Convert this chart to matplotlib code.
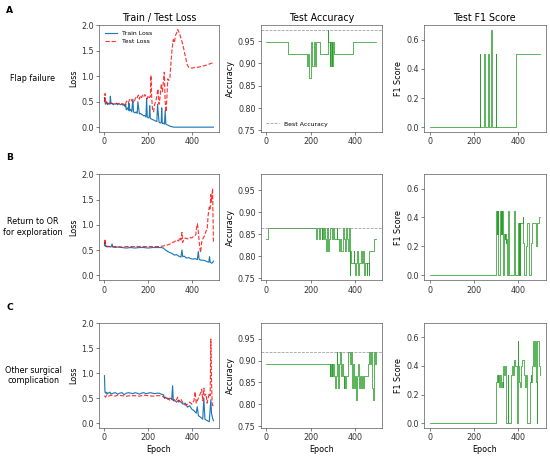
import matplotlib.pyplot as plt

# ---- data ----
row_names = ["Flap failure", "Return to OR\nfor exploration", "Other surgical\ncomplication"]
panel_tags = ["A", "B", "C"]

# loss curves (epoch, value)
train_A_ep = [0, 2, 5, 10, 15, 20, 25, 27, 30, 35, 40, 45, 50, 55, 60, 65, 70, 75, 80, 85, 90, 95, 97, 100, 105, 110,
              112, 115, 120, 125, 130, 133, 140, 145, 150, 153, 160, 165, 170, 175, 180, 185, 190, 193, 196, 200,
              205, 207, 210, 215, 220, 225, 230, 235, 240, 243, 250, 255, 260, 262, 265, 270, 275, 278, 281, 285,
              290, 295, 300, 305, 310, 315, 320, 350, 400, 450, 499]
train_A = [0.58, 0.50, 0.45, 0.48, 0.44, 0.47, 0.45, 0.61, 0.46, 0.47, 0.44, 0.46, 0.45, 0.47, 0.44, 0.46, 0.45, 0.44,
           0.46, 0.43, 0.44, 0.40, 0.45, 0.34, 0.38, 0.33, 0.47, 0.32, 0.35, 0.30, 0.55, 0.30, 0.28, 0.30, 0.27, 0.50,
           0.26, 0.27, 0.25, 0.24, 0.22, 0.23, 0.20, 0.57, 0.20, 0.18, 0.20, 0.42, 0.17, 0.16, 0.15, 0.14, 0.13, 0.12,
           0.11, 0.45, 0.10, 0.08, 0.09, 0.38, 0.07, 0.08, 0.06, 0.32, 0.06, 0.05, 0.04, 0.03, 0.02, 0.01, 0.01, 0.0,
           0.0, 0.0, 0.0, 0.0, 0.0]
test_A_ep = [0, 3, 5, 10, 15, 20, 30, 40, 50, 60, 70, 80, 90, 95, 100, 105, 110, 115, 120, 125, 130, 135, 140, 145,
             150, 155, 160, 165, 170, 175, 180, 185, 190, 195, 200, 205, 210, 213, 216, 220, 225, 230, 235, 240, 245,
             250, 255, 260, 265, 270, 274, 278, 282, 286, 290, 295, 300, 305, 310, 315, 320, 325, 330, 335, 340, 345,
             350, 355, 360, 365, 370, 375, 380, 385, 390, 400, 410, 420, 440, 460, 480, 499]
test_A = [0.50, 0.66, 0.47, 0.50, 0.46, 0.48, 0.47, 0.46, 0.47, 0.46, 0.47, 0.46, 0.45, 0.42, 0.50, 0.52, 0.48, 0.55,
          0.56, 0.52, 0.50, 0.48, 0.55, 0.60, 0.58, 0.63, 0.55, 0.62, 0.58, 0.63, 0.60, 0.64, 0.60, 0.55, 0.62, 0.58,
          0.60, 1.02, 0.60, 0.35, 0.30, 0.45, 0.50, 0.62, 0.75, 0.45, 0.60, 0.85, 0.70, 0.90, 1.08, 0.50, 0.30, 0.60,
          0.95, 0.92, 0.98, 1.30, 1.55, 1.72, 1.66, 1.80, 1.85, 1.92, 1.88, 1.82, 1.75, 1.68, 1.60, 1.50, 1.40, 1.30,
          1.22, 1.18, 1.17, 1.16, 1.17, 1.17, 1.19, 1.21, 1.24, 1.27]

train_B_ep = [0, 2, 4, 8, 12, 20, 30, 35, 38, 50, 60, 80, 100, 120, 140, 160, 180, 200, 220, 240, 260, 270, 280, 290,
              300, 310, 320, 330, 340, 350, 355, 358, 365, 375, 385, 395, 405, 415, 425, 430, 433, 440, 450, 460,
              470, 478, 481, 484, 490, 495, 499]
train_B = [0.60, 0.66, 0.57, 0.58, 0.56, 0.57, 0.56, 0.62, 0.56, 0.55, 0.56, 0.55, 0.54, 0.55, 0.54, 0.55, 0.55, 0.54,
           0.55, 0.55, 0.55, 0.54, 0.50, 0.47, 0.45, 0.43, 0.40, 0.41, 0.38, 0.36, 0.50, 0.37, 0.38, 0.34, 0.35, 0.33,
           0.32, 0.33, 0.31, 0.47, 0.32, 0.30, 0.30, 0.29, 0.27, 0.26, 0.37, 0.26, 0.24, 0.25, 0.28]
test_B_ep = [0, 3, 6, 10, 20, 40, 60, 80, 100, 150, 200, 250, 270, 280, 290, 300, 310, 320, 330, 340, 345, 350, 355,
             358, 362, 370, 380, 390, 400, 410, 418, 422, 426, 430, 435, 440, 445, 450, 460, 465, 470, 475, 480, 484,
             487, 490, 493, 495, 497, 499]
test_B = [0.62, 0.72, 0.60, 0.58, 0.57, 0.57, 0.57, 0.56, 0.57, 0.57, 0.57, 0.57, 0.58, 0.60, 0.60, 0.62, 0.65, 0.66,
          0.70, 0.68, 0.75, 0.70, 0.85, 0.65, 0.70, 0.74, 0.72, 0.75, 0.74, 0.78, 0.80, 0.95, 1.02, 0.85, 0.60, 0.45,
          0.65, 0.72, 0.80, 0.88, 0.90, 1.20, 1.35, 1.30, 1.60, 1.45, 1.62, 1.72, 1.20, 0.65]

train_C_ep = [0, 2, 4, 8, 12, 16, 20, 25, 30, 40, 50, 60, 70, 80, 90, 100, 110, 120, 130, 140, 150, 160, 170, 180,
              190, 200, 210, 220, 230, 240, 250, 260, 270, 275, 280, 290, 300, 308, 312, 315, 320, 330, 340, 350,
              360, 370, 380, 390, 400, 410, 420, 425, 430, 440, 450, 455, 460, 470, 480, 487, 490, 495, 499]
train_C = [0.95, 0.65, 0.60, 0.62, 0.58, 0.61, 0.60, 0.62, 0.58, 0.60, 0.61, 0.58, 0.60, 0.61, 0.57, 0.60, 0.61, 0.60,
           0.59, 0.61, 0.60, 0.58, 0.60, 0.61, 0.59, 0.60, 0.61, 0.60, 0.59, 0.60, 0.60, 0.58, 0.57, 0.50, 0.52, 0.48,
           0.50, 0.48, 0.75, 0.45, 0.47, 0.42, 0.46, 0.42, 0.38, 0.40, 0.32, 0.35, 0.28, 0.25, 0.20, 0.33, 0.15, 0.12,
           0.08, 0.50, 0.08, 0.05, 0.03, 0.47, 0.20, 0.10, 0.05]
test_C_ep = [0, 5, 10, 20, 30, 40, 50, 60, 80, 100, 120, 140, 160, 180, 200, 220, 240, 260, 270, 280, 290, 300, 310,
             320, 330, 335, 340, 350, 360, 370, 380, 390, 400, 410, 415, 420, 430, 440, 445, 450, 455, 460, 465, 470,
             475, 480, 484, 487, 490, 493, 496, 499]
test_C = [0.55, 0.52, 0.56, 0.54, 0.56, 0.55, 0.54, 0.56, 0.55, 0.54, 0.55, 0.55, 0.54, 0.56, 0.55, 0.54, 0.55, 0.55,
          0.53, 0.48, 0.50, 0.45, 0.48, 0.44, 0.47, 0.52, 0.42, 0.48, 0.40, 0.36, 0.38, 0.42, 0.38, 0.45, 0.63, 0.40,
          0.50, 0.60, 0.68, 0.45, 0.70, 0.55, 0.58, 0.40, 0.50, 0.60, 0.55, 1.68, 0.90, 0.40, 0.35, 0.38]

# test accuracy, value holds from each listed epoch until the next one
acc_A_ep = [0, 97, 182, 188, 193, 200, 205, 208, 215, 222, 225, 245, 252, 277, 280, 286, 288, 293, 295, 299, 301,
            305, 391, 499]
acc_A = [0.947, 0.921, 0.895, 0.921, 0.868, 0.947, 0.921, 0.895, 0.947, 0.895, 0.947, 0.921, 0.921, 0.974, 0.947,
         0.895, 0.947, 0.895, 0.947, 0.895, 0.947, 0.921, 0.947, 0.947]
acc_B_ep = [0, 8, 225, 228, 240, 244, 250, 253, 258, 262, 265, 270, 273, 278, 282, 290, 297, 303, 308, 318, 322, 328,
            333, 340, 345, 350, 356, 360, 365, 370, 374, 377, 380, 384, 395, 398, 403, 406, 412, 416, 419, 428, 432,
            440, 444, 449, 455, 458, 463, 466, 490, 499]
acc_B = [0.838, 0.865, 0.838, 0.865, 0.838, 0.865, 0.838, 0.865, 0.838, 0.865, 0.838, 0.811, 0.865, 0.811, 0.838,
         0.865, 0.838, 0.865, 0.838, 0.865, 0.838, 0.811, 0.838, 0.811, 0.865, 0.838, 0.811, 0.865, 0.838, 0.811,
         0.865, 0.757, 0.811, 0.784, 0.811, 0.784, 0.757, 0.784, 0.811, 0.757, 0.784, 0.811, 0.784, 0.811, 0.757,
         0.784, 0.757, 0.784, 0.757, 0.811, 0.838, 0.838]
acc_C_ep = [0, 286, 290, 293, 296, 299, 303, 306, 310, 314, 318, 322, 326, 329, 334, 338, 342, 346, 350, 353, 358,
            362, 368, 372, 378, 382, 386, 390, 394, 398, 402, 406, 410, 414, 418, 422, 426, 430, 434, 440, 444, 462,
            466, 470, 474, 480, 484, 487, 492, 496, 499]
acc_C = [0.892, 0.865, 0.892, 0.865, 0.892, 0.865, 0.892, 0.865, 0.838, 0.865, 0.919, 0.892, 0.838, 0.892, 0.919,
         0.865, 0.892, 0.865, 0.838, 0.865, 0.838, 0.865, 0.892, 0.919, 0.892, 0.919, 0.865, 0.838, 0.892, 0.838,
         0.865, 0.811, 0.865, 0.892, 0.865, 0.838, 0.865, 0.838, 0.865, 0.838, 0.865, 0.892, 0.919, 0.892, 0.919,
         0.838, 0.811, 0.919, 0.892, 0.919, 0.919]

# test F1, same step layout
f1_A_ep = [0, 227, 229, 248, 250, 266, 268, 277, 280, 282, 298, 300, 390, 499]
f1_A = [0.0, 0.5, 0.0, 0.5, 0.0, 0.5, 0.0, 0.667, 0.5, 0.0, 0.5, 0.0, 0.5, 0.5]
f1_B_ep = [0, 300, 303, 305, 307, 309, 311, 318, 321, 323, 325, 327, 330, 336, 339, 341, 343, 346, 348, 354, 357,
           382, 384, 400, 403, 405, 408, 410, 420, 424, 427, 435, 442, 447, 450, 458, 462, 480, 483, 495, 499]
f1_B = [0.0, 0.444, 0.286, 0.444, 0.286, 0.444, 0.0, 0.444, 0.286, 0.444, 0.286, 0.444, 0.0, 0.286, 0.25, 0.286,
        0.222, 0.25, 0.0, 0.444, 0.0, 0.444, 0.0, 0.364, 0.0, 0.364, 0.0, 0.364, 0.4, 0.222, 0.0, 0.2, 0.364, 0.222,
        0.0, 0.222, 0.364, 0.2, 0.364, 0.4, 0.4]
f1_C_ep = [0, 300, 303, 307, 310, 313, 316, 320, 323, 326, 330, 333, 336, 339, 344, 354, 356, 366, 372, 379, 383,
           388, 394, 397, 399, 401, 406, 409, 412, 416, 426, 430, 434, 438, 442, 452, 456, 460, 464, 469, 473, 476,
           480, 483, 486, 494, 497, 499]
f1_C = [0.0, 0.286, 0.333, 0.286, 0.333, 0.25, 0.286, 0.333, 0.25, 0.286, 0.25, 0.4, 0.333, 0.4, 0.0, 0.333, 0.0,
        0.333, 0.4, 0.333, 0.444, 0.4, 0.286, 0.0, 0.571, 0.4, 0.286, 0.25, 0.4, 0.444, 0.333, 0.25, 0.333, 0.25,
        0.0, 0.286, 0.333, 0.286, 0.4, 0.571, 0.4, 0.571, 0.286, 0.0, 0.571, 0.4, 0.333, 0.333]

losses = [(train_A_ep, train_A, test_A_ep, test_A),
          (train_B_ep, train_B, test_B_ep, test_B),
          (train_C_ep, train_C, test_C_ep, test_C)]
accs = [(acc_A_ep, acc_A), (acc_B_ep, acc_B), (acc_C_ep, acc_C)]
f1s = [(f1_A_ep, f1_A), (f1_B_ep, f1_B), (f1_C_ep, f1_C)]

# ---- figure ----
fig = plt.figure(figsize=(10, 8.31), dpi=55)

col_x = [0.180, 0.4745, 0.771]
col_w = [0.218, 0.220, 0.221]
row_y = [0.711, 0.387, 0.0635]
row_h = [0.234, 0.232, 0.230]
tag_y = [1 - 6 / 457, 1 - 153 / 457, 1 - 303 / 457]

for r in range(3):
    axs = [fig.add_axes([col_x[c], row_y[r], col_w[c], row_h[r]]) for c in range(3)]
    ax_l, ax_a, ax_f = axs

    tr_ep, tr, te_ep, te = losses[r]
    ax_l.plot(tr_ep, tr, color='tab:blue', lw=1.5, label='Train Loss')
    ax_l.plot(te_ep, te, color='red', ls='--', lw=1.5, alpha=0.8, label='Test Loss')
    ax_l.set_ylabel('Loss', fontsize=10.5)
    ax_l.set_ylim(-0.096, 2.006)
    ax_l.set_yticks([0.0, 0.5, 1.0, 1.5, 2.0])

    a_ep, a = accs[r]
    ax_a.plot(a_ep, a, color='tab:green', lw=1.0, drawstyle='steps-post')
    ax_a.axhline(max(a), color='gray', ls='--', lw=1.0, alpha=0.8, label='Best Accuracy')
    ax_a.set_ylabel('Accuracy', fontsize=10.5)
    ax_a.set_ylim(0.746, 0.986)
    ax_a.set_yticks([0.75, 0.80, 0.85, 0.90, 0.95])

    f_ep, f = f1s[r]
    ax_f.plot(f_ep, f, color='tab:green', lw=1.0, drawstyle='steps-post')
    ax_f.set_ylabel('F1 Score', fontsize=10.5)
    ax_f.set_ylim(-0.033, 0.70)
    ax_f.set_yticks([0.0, 0.2, 0.4, 0.6])

    for ax in axs:
        ax.set_xlim(-25, 524)
        ax.set_xticks([0, 200, 400])
        ax.tick_params(labelsize=10.5, colors='#333333')
        for sp in ax.spines.values():
            sp.set_color('#444444')
        if r == 2:
            ax.set_xlabel('Epoch', fontsize=10.5)

    if r == 0:
        ax_l.set_title('Train / Test Loss', fontsize=12.5)
        ax_a.set_title('Test Accuracy', fontsize=12.5)
        ax_f.set_title('Test F1 Score', fontsize=12.5)
        ax_l.legend(loc='upper left', fontsize=8, frameon=False)
        ax_a.legend(loc='lower left', fontsize=8, frameon=False)

    yc = row_y[r] + row_h[r] / 2
    fig.text(0.06, yc, row_names[r], ha='center', va='center', fontsize=10.5, multialignment='center')
    fig.text(0.011, tag_y[r], panel_tags[r], ha='left', va='top', fontsize=12, fontweight='bold')

fig.savefig('out.png', dpi=55)
